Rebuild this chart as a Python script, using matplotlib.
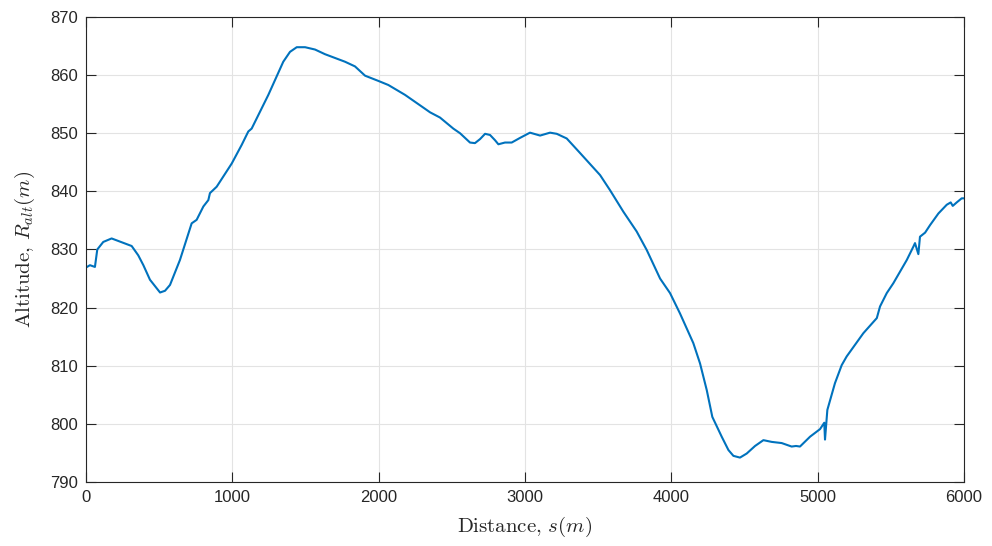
import numpy as np
import matplotlib.pyplot as plt

plt.rcParams['font.family'] = ['Liberation Sans', 'DejaVu Sans']
plt.rcParams['mathtext.fontset'] = 'cm'

# distance along the route (m) and altitude (m)
distance = [0, 27, 61, 77, 118, 175, 312, 357, 392, 437, 506, 540, 574, 642,
            722, 756, 802, 836, 847, 893, 996, 1064, 1109, 1132, 1246, 1348,
            1394, 1440, 1497, 1565, 1633, 1770, 1838, 1907, 1998, 2066, 2180,
            2317, 2351, 2419, 2510, 2556, 2624, 2658, 2693, 2727, 2761, 2795,
            2818, 2863, 2909, 2966, 3034, 3103, 3171, 3217, 3285, 3376, 3513,
            3581, 3672, 3763, 3832, 3923, 3991, 4059, 4150, 4196, 4242, 4280,
            4344, 4390, 4424, 4469, 4515, 4572, 4629, 4686, 4754, 4822, 4852,
            4879, 4948, 5016, 5045, 5050, 5066, 5118, 5164, 5198, 5312, 5404,
            5426, 5472, 5517, 5609, 5654, 5665, 5688, 5699, 5734, 5768, 5825,
            5882, 5909, 5923, 5950, 5984, 6000]
altitude = [826.9, 827.3, 827.0, 830.0, 831.3, 831.9, 830.6, 829.0, 827.3,
            824.8, 822.6, 822.9, 823.9, 828.2, 834.5, 835.1, 837.4, 838.5,
            839.7, 840.8, 844.8, 848.0, 850.3, 850.8, 856.6, 862.3, 864.0,
            864.8, 864.8, 864.4, 863.6, 862.3, 861.5, 859.9, 859.0, 858.3,
            856.6, 854.2, 853.6, 852.7, 850.8, 850.0, 848.4, 848.3, 849.0,
            849.9, 849.7, 848.8, 848.1, 848.4, 848.4, 849.2, 850.1, 849.6,
            850.1, 849.9, 849.1, 846.6, 842.8, 840.2, 836.5, 833.1, 829.9,
            825.0, 822.5, 819.0, 813.9, 810.4, 805.8, 801.2, 797.8, 795.5,
            794.5, 794.2, 794.9, 796.2, 797.2, 796.9, 796.7, 796.1, 796.2,
            796.1, 797.8, 799.1, 800.2, 797.3, 802.4, 807.0, 810.1, 811.6,
            815.6, 818.2, 820.2, 822.5, 824.2, 828.2, 830.5, 831.1, 829.2,
            832.2, 832.9, 834.2, 836.2, 837.7, 838.1, 837.5, 838.1, 838.8,
            838.8]

xticks = [0, 1000, 2000, 3000, 4000, 5000, 6000]
yticks = [790, 800, 810, 820, 830, 840, 850, 860, 870]

fig = plt.figure(figsize=(9.92, 5.46), dpi=100)
ax = fig.add_axes([0.0867, 0.1172, 0.8851, 0.8517])

ax.plot(distance, altitude, color='#0072BD', linewidth=1.5)

ax.set_xlim(0, 6000)
ax.set_ylim(790, 870)
ax.set_xticks(xticks)
ax.set_yticks(yticks)
ax.grid(True, color='#e3e3e3', linewidth=0.8)
ax.set_axisbelow(True)
ax.tick_params(direction='in', length=7, width=0.8, top=True, right=True,
               labelsize=12, colors='#262626', pad=6)
for s in ax.spines.values():
    s.set_color('#262626')
    s.set_linewidth(0.8)

ax.set_xlabel(r'$\mathrm{Distance},\,s(m)$', fontsize=15, color='#262626', labelpad=7)
ax.set_ylabel(r'$\mathrm{Altitude},\,R_{alt}(m)$', fontsize=15, color='#262626', labelpad=9)

plt.savefig('out.png', dpi=100)
